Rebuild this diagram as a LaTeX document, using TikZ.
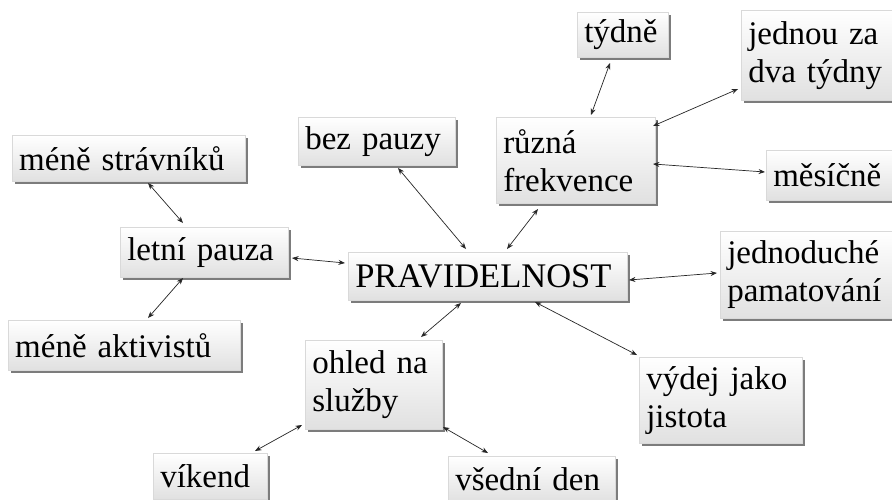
\documentclass[tikz,border=0pt]{standalone}
\usepackage{fontspec}
\setmainfont{Liberation Serif}
\usetikzlibrary{calc,shadows,arrows.meta}
\begin{document}
\begin{tikzpicture}[x=1pt,y=-1pt,
  box/.style={rectangle, anchor=north west, inner xsep=7pt, inner ysep=0pt,
    top color=white, bottom color=black!12, draw=black!15, line width=0.5pt,
    drop shadow={shadow xshift=3pt, shadow yshift=-3pt, fill=black!60, opacity=0.85},
    font=\fontsize{33}{38}\selectfont, align=left},
  conn/.style={<->, >={Stealth[length=6.5pt,width=5pt]}, line width=0.7pt, black!85}]
\useasboundingbox (0,0) rectangle (892,499);
\clip (0,0) rectangle (892,499);
\fill[white] (0,0) rectangle (892,499);
\newcommand{\bx}[6]{\node[box, text width=#4-14pt, minimum height=#5] (#1) at (#2,#3) {#6};}
\bx{tydne}{577}{12}{91}{45}{týdně}
\bx{jednou}{741}{10}{170}{90}{jednou za\\dva týdny}
\bx{rf}{496}{117}{159}{86}{různá\\frekvence}
\bx{mesicne}{766}{150}{140}{50}{měsíčně}
\bx{bez}{298}{117}{157}{48}{bez pauzy}
\bx{mstrav}{12}{135}{233}{46}{méně strávníků}
\bx{letni}{120}{227}{168}{50}{letní pauza}
\bx{makt}{8}{320}{232}{50}{méně aktivistů}
\node[box, text width=279pt-14pt, minimum height=48, font=\fontsize{34.5}{38}\selectfont] (prav) at (348,252) {PRAVIDELNOST};
\bx{jedn}{720}{231}{180}{87}{jednoduché\\pamatování}
\bx{ohled}{305}{340}{137}{89}{ohled na\\služby}
\bx{vydej}{639}{357}{163}{86}{výdej jako\\jistota}
\bx{vikend}{153}{453}{114}{46}{víkend}
\bx{vsedni}{448}{456}{167}{46}{všední den}
\draw[conn] ($(tydne.north west)+(33,51)$) -- ($(rf.north west)+(95,-2)$);
\draw[conn] ($(jednou.north west)+(-3,79)$) -- ($(rf.north west)+(157,9)$);
\draw[conn] ($(rf.north west)+(157,47)$) -- ($(mesicne.north west)+(-1,22)$);
\draw[conn] ($(bez.north west)+(100,51)$) -- ($(prav.north west)+(118,-3)$);
\draw[conn] ($(rf.north west)+(42,92)$) -- ($(prav.north west)+(159,-3)$);
\draw[conn] ($(letni.north west)+(172,31)$) -- ($(prav.north west)+(-3,11)$);
\draw[conn] ($(mstrav.north west)+(136,48)$) -- ($(letni.north west)+(63,-4)$);
\draw[conn] ($(letni.north west)+(63,51)$) -- ($(makt.north west)+(140,-2)$);
\draw[conn] ($(prav.north west)+(281,28)$) -- ($(jedn.north west)+(-3,42)$);
\draw[conn] ($(prav.north west)+(187,50)$) -- ($(vydej.north west)+(-2,-2)$);
\draw[conn] ($(prav.north west)+(113,51)$) -- ($(ohled.north west)+(116,-3)$);
\draw[conn] ($(ohled.north west)+(-3,85)$) -- ($(vikend.north west)+(102,-2)$);
\draw[conn] ($(ohled.north west)+(138,87)$) -- ($(vsedni.north west)+(40,-3)$);
\end{tikzpicture}
\end{document}
